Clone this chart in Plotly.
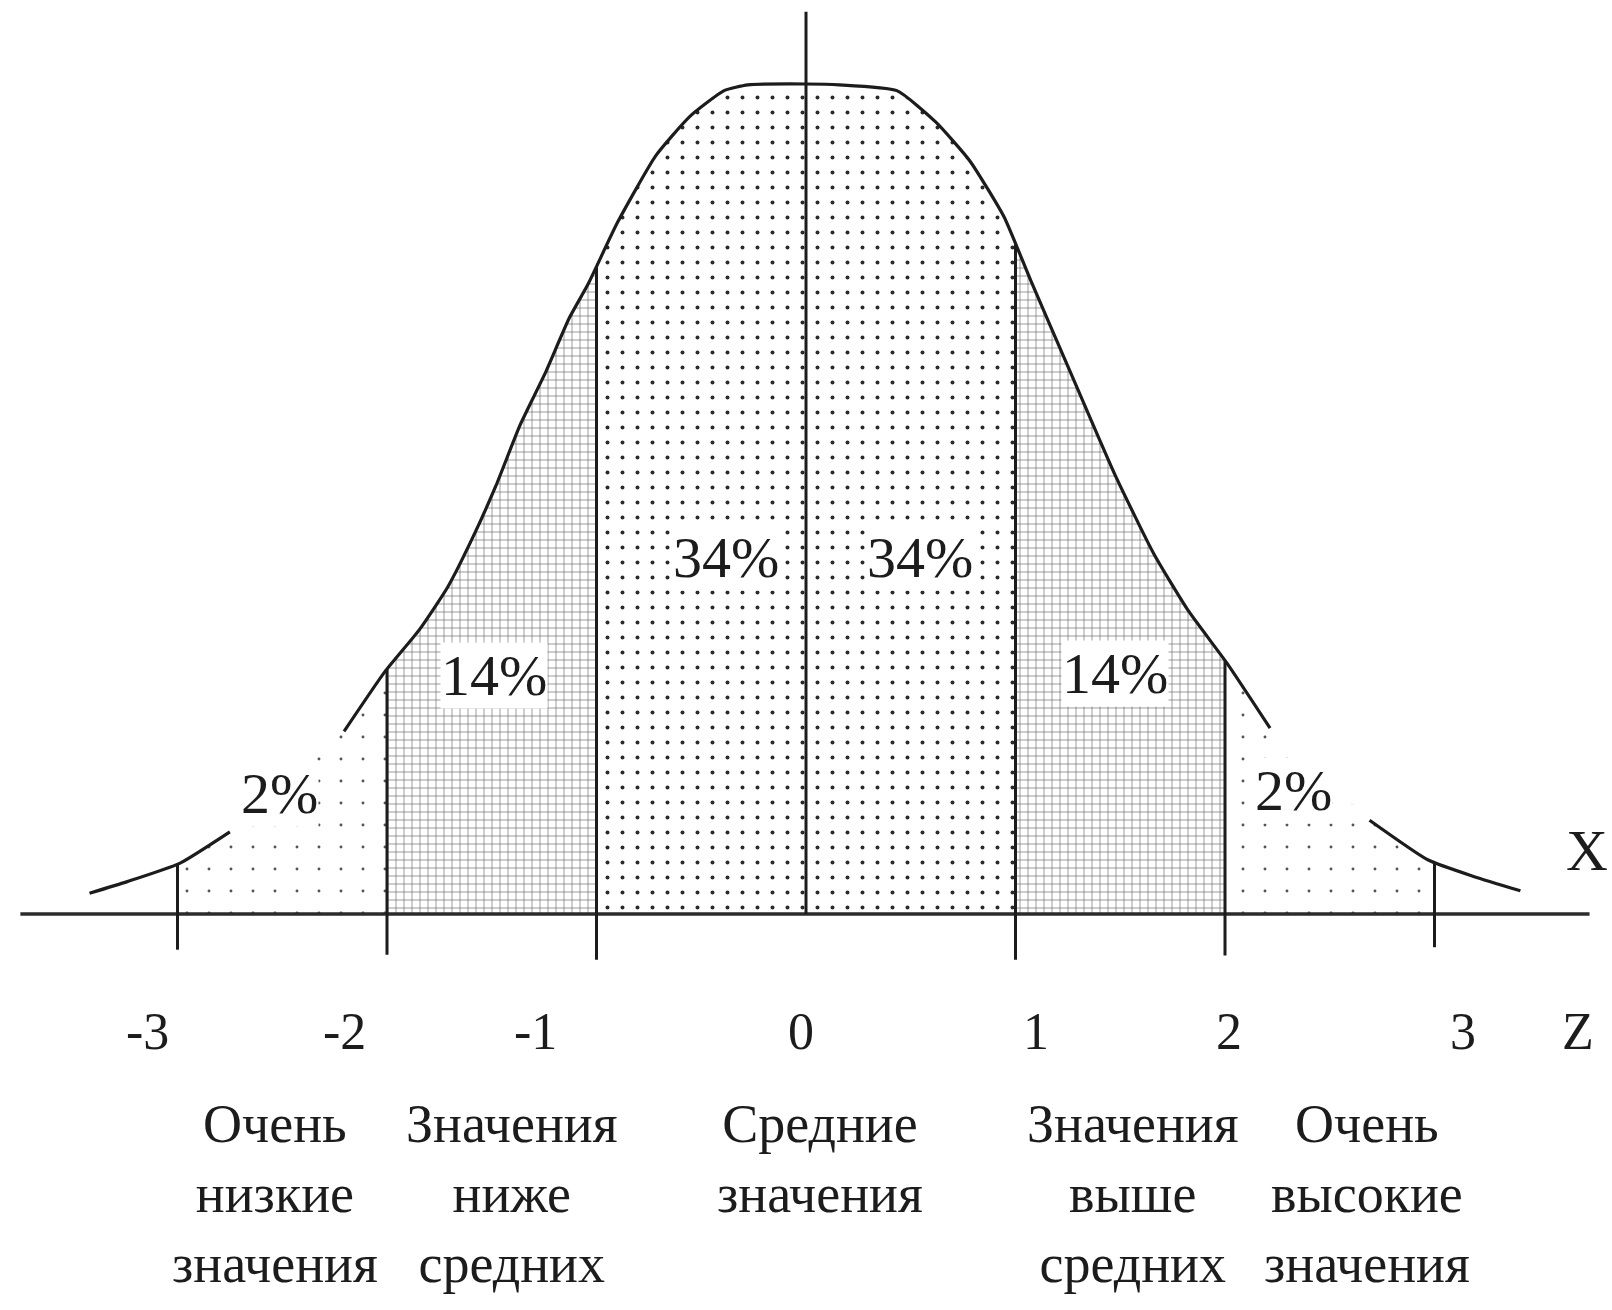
import numpy as np
import plotly.graph_objects as go

# z-scores of the section boundaries and their labels
bounds = [-3, -2, -1, 0, 1, 2, 3]
tick_text = ["-3", "-2", "-1", "0", "1", "2", "3"]

# bell curve (relative height), drawn as three separate pieces
left_tail_z = [-3.42, -3.24, -2.99, -2.75]
left_tail_h = [0.025, 0.039, 0.061, 0.099]

main_z = [-2.205, -2.01, -1.847, -1.71, -1.59, -1.48, -1.365, -1.246, -1.13, -1.04,
          -0.90, -0.716, -0.554, -0.391, -0.277, 0.0, 0.158, 0.434, 0.62, 0.783,
          0.945, 1.07, 1.265, 1.475, 1.66, 1.823, 2.01, 2.215]
main_h = [0.220, 0.292, 0.342, 0.394, 0.454, 0.516, 0.589, 0.651, 0.718, 0.759,
          0.833, 0.914, 0.961, 0.992, 0.999, 1.000, 0.999, 0.992, 0.954, 0.907,
          0.840, 0.765, 0.651, 0.529, 0.434, 0.366, 0.302, 0.224]

right_tail_z = [2.69, 2.97, 3.19, 3.41]
right_tail_h = [0.113, 0.065, 0.045, 0.028]

# share of cases in each section, left to right
share_pct = [2, 14, 34, 34, 14, 2]

# verbal names of the score ranges
band_labels = [
    "Очень<br>низкие<br>значения",
    "Значения<br>ниже<br>средних",
    "Средние<br>значения",
    "Значения<br>выше<br>средних",
    "Очень<br>высокие<br>значения",
]

# ---------------------------------------------------------------- styling
FONT = "Liberation Serif, Times New Roman, serif"
INK = "#1c1c1c"

all_z = np.array(left_tail_z + main_z + right_tail_z)
all_h = np.array(left_tail_h + main_h + right_tail_h)


def curve_at(z):
    return float(np.interp(z, all_z, all_h))


fig = go.Figure()

# shaded sections under the curve
section_styles = [
    dict(shape=".", size=22, solidity=0.014, fgcolor="#555555"),
    dict(shape="+", size=8, solidity=0.16, fgcolor="#6a6a6a"),
    dict(shape=".", size=15, solidity=0.055, fgcolor="#2a2a2a"),
    dict(shape=".", size=15, solidity=0.055, fgcolor="#2a2a2a"),
    dict(shape="+", size=8, solidity=0.16, fgcolor="#6a6a6a"),
    dict(shape=".", size=22, solidity=0.014, fgcolor="#555555"),
]
for i, style in enumerate(section_styles):
    a, b = bounds[i], bounds[i + 1]
    inner = [z for z in all_z if a < z < b]
    xs = [a] + inner + [b]
    ys = [curve_at(z) for z in xs]
    fig.add_trace(go.Scatter(
        x=xs, y=ys, mode="lines", line=dict(width=0),
        fill="tozeroy", fillcolor="rgba(0,0,0,0)",
        fillpattern=dict(bgcolor="rgba(255,255,255,0)", fillmode="replace", **style),
        hoverinfo="skip", showlegend=False,
    ))

# the curve itself
for zs, hs in [(left_tail_z, left_tail_h), (main_z, main_h), (right_tail_z, right_tail_h)]:
    fig.add_trace(go.Scatter(
        x=zs, y=hs, mode="lines", line=dict(color=INK, width=3.2, shape="spline", smoothing=0.5),
        hoverinfo="skip", showlegend=False,
    ))

# baseline (X axis)
fig.add_shape(type="line", x0=-3.75, x1=3.74, y0=0, y1=0,
              line=dict(color="#2b2b2b", width=3.5))

# vertical boundaries, running a little below the baseline
drop = {-3: -0.043, -2: -0.049, -1: -0.055, 1: -0.055, 2: -0.050, 3: -0.040}
for z in bounds:
    if z == 0:
        fig.add_shape(type="line", x0=0, x1=0, y0=0, y1=1.087,
                      line=dict(color=INK, width=3))
    else:
        fig.add_shape(type="line", x0=z, x1=z, y0=drop[z], y1=curve_at(z),
                      line=dict(color=INK, width=3))

# percentage labels
pct_pos = [(-2.511, 0.145), (-1.489, 0.287), (-0.382, 0.429),
           (0.544, 0.430), (1.475, 0.290), (2.325, 0.149)]
for p, (x, y) in zip(share_pct, pct_pos):
    fig.add_annotation(x=x, y=y, text=f"{p}%", showarrow=False,
                       font=dict(family=FONT, size=58, color=INK),
                       bgcolor="white", borderpad=0)

# z tick labels
tick_shift = [-30, -43, -61, -5, 20, 4, 28]
for z, t, s in zip(bounds, tick_text, tick_shift):
    fig.add_annotation(x=z, y=-0.141, text=t, showarrow=False, xshift=s,
                       font=dict(family=FONT, size=52, color=INK))

# range names
band_x = [-2.535, -1.403, 0.067, 1.561, 2.678]
for x, t in zip(band_x, band_labels):
    fig.add_annotation(x=x, y=-0.215, text=t, showarrow=False, yanchor="top",
                       font=dict(family=FONT, size=54, color=INK))

# axis letters
fig.add_annotation(x=3.728, y=0.077, text="X", showarrow=False,
                   font=dict(family=FONT, size=58, color=INK))
fig.add_annotation(x=3.685, y=-0.141, text="Z", showarrow=False,
                   font=dict(family=FONT, size=52, color=INK))

fig.update_xaxes(range=[-806 / 209.5, (1612 - 806) / 209.5], visible=False, fixedrange=True)
fig.update_yaxes(range=[-396 / 830, 914 / 830], visible=False, fixedrange=True)
fig.update_layout(
    width=1612, height=1310, margin=dict(l=0, r=0, t=0, b=0),
    paper_bgcolor="white", plot_bgcolor="white", hovermode=False,
)

fig.write_html("out.html")
